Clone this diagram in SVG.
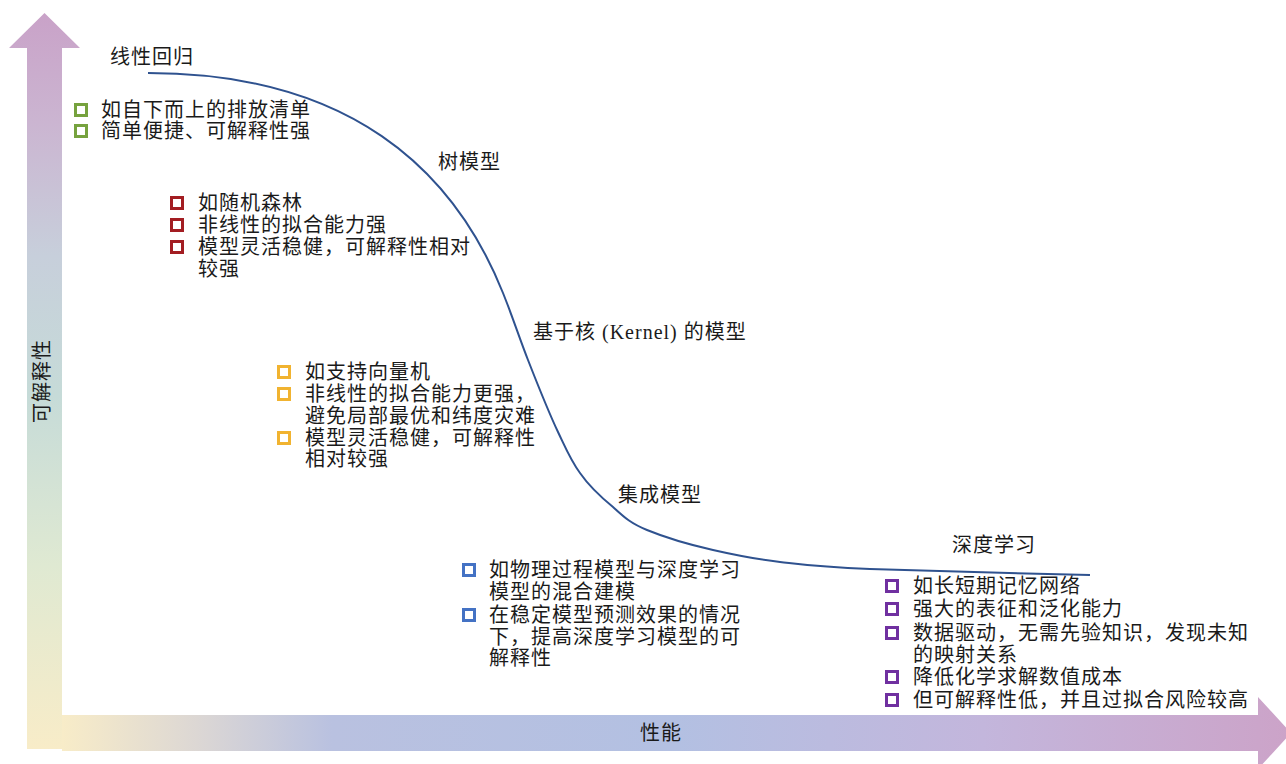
<svg xmlns="http://www.w3.org/2000/svg" width="1286" height="764" viewBox="0 0 1286 764">
<style>
  .t { font-family: "Liberation Serif", "Noto Sans CJK SC", serif; font-size: 20px; letter-spacing: 1px; fill: #1a1a1a; }
  .sq { fill: #ffffff; stroke-width: 3; }
  .g { stroke: #76a23e; }
  .r { stroke: #a31d22; }
  .o { stroke: #f1b330; }
  .b { stroke: #4472c4; }
  .p { stroke: #7030a0; }
  .curve { fill: none; stroke: #2f528f; stroke-width: 2; }
</style>
<defs>
  <linearGradient id="gv" gradientUnits="userSpaceOnUse" x1="0" y1="13" x2="0" y2="749">
    <stop offset="0" stop-color="#c9a2c8"/>
    <stop offset="0.15" stop-color="#cbb5d1"/>
    <stop offset="0.33" stop-color="#c7cfdb"/>
    <stop offset="0.52" stop-color="#c6dbd8"/>
    <stop offset="0.75" stop-color="#dfe9d2"/>
    <stop offset="1" stop-color="#f8ecc8"/>
  </linearGradient>
  <linearGradient id="gh" gradientUnits="userSpaceOnUse" x1="62" y1="0" x2="1290" y2="0">
    <stop offset="0" stop-color="#f8ecc8"/>
    <stop offset="0.11" stop-color="#dcd7d4"/>
    <stop offset="0.22" stop-color="#b9c1e0"/>
    <stop offset="0.5" stop-color="#b3c0e2"/>
    <stop offset="0.75" stop-color="#c3b6dc"/>
    <stop offset="1" stop-color="#cca3c8"/>
  </linearGradient>
</defs>
<rect width="1286" height="764" fill="#ffffff"/>
<g id="axes">
  <polygon id="y-axis" points="27,749 27,48 9,48 44.5,13 80,48 62,48 62,749" fill="url(#gv)"/>
  <polygon id="x-axis" points="62,715 1258,715 1258,697 1291,733 1258,769 1258,751 62,751" fill="url(#gh)"/>
  <text class="t" transform="translate(42,381) rotate(-90)" x="0" y="7" text-anchor="middle">可解释性</text>
  <text class="t" x="640" y="740">性能</text>
</g>
<g id="connectors">
  <path class="curve" d="M148,73 C348,73 453,168 503,293 C513,318 519,337 528,360 C537,383 549,413 558,432 C567,451 571,461 580,473 C589,486 602,498 613,507 C624,517 630,523 647,530 C664,537 691,545 713,550 C735,555 754,559 780,562 C806,565 818,567 870,569 C922,571 1053,574 1090,575"/>
</g>
<g id="node-linear">
  <text class="t" x="110" y="64">线性回归</text>
  <rect class="sq g" x="75.5" y="104.5" width="11" height="11"/>
  <text class="t" x="101" y="117">如自下而上的排放清单</text>
  <rect class="sq g" x="75.5" y="125.5" width="11" height="11"/>
  <text class="t" x="101" y="138">简单便捷、可解释性强</text>
</g>
<g id="node-tree">
  <text class="t" x="438" y="169">树模型</text>
  <rect class="sq r" x="171.5" y="197.5" width="11" height="11"/>
  <text class="t" x="198" y="210">如随机森林</text>
  <rect class="sq r" x="171.5" y="219.5" width="11" height="11"/>
  <text class="t" x="198" y="232">非线性的拟合能力强</text>
  <rect class="sq r" x="171.5" y="241.5" width="11" height="11"/>
  <text class="t" x="198" y="254">模型灵活稳健，可解释性相对</text>
  <text class="t" x="198" y="276">较强</text>
</g>
<g id="node-kernel">
  <text class="t" x="533" y="339">基于核 (Kernel) 的模型</text>
  <rect class="sq o" x="278.5" y="366.5" width="11" height="11"/>
  <text class="t" x="305" y="379">如支持向量机</text>
  <rect class="sq o" x="278.5" y="388.5" width="11" height="11"/>
  <text class="t" x="305" y="401">非线性的拟合能力更强，</text>
  <text class="t" x="305" y="423">避免局部最优和纬度灾难</text>
  <rect class="sq o" x="278.5" y="432.5" width="11" height="11"/>
  <text class="t" x="305" y="445">模型灵活稳健，可解释性</text>
  <text class="t" x="305" y="466">相对较强</text>
</g>
<g id="node-ensemble">
  <text class="t" x="618" y="502">集成模型</text>
  <rect class="sq b" x="463.5" y="564.5" width="11" height="11"/>
  <text class="t" x="489" y="577">如物理过程模型与深度学习</text>
  <text class="t" x="489" y="599">模型的混合建模</text>
  <rect class="sq b" x="463.5" y="609.5" width="11" height="11"/>
  <text class="t" x="489" y="622">在稳定模型预测效果的情况</text>
  <text class="t" x="489" y="644">下，提高深度学习模型的可</text>
  <text class="t" x="489" y="665">解释性</text>
</g>
<g id="node-deep">
  <text class="t" x="952" y="552">深度学习</text>
  <rect class="sq p" x="886.5" y="580.5" width="11" height="11"/>
  <text class="t" x="913" y="593">如长短期记忆网络</text>
  <rect class="sq p" x="886.5" y="603.5" width="11" height="11"/>
  <text class="t" x="913" y="616">强大的表征和泛化能力</text>
  <rect class="sq p" x="886.5" y="627.5" width="11" height="11"/>
  <text class="t" x="913" y="640">数据驱动，无需先验知识，发现未知</text>
  <text class="t" x="913" y="662">的映射关系</text>
  <rect class="sq p" x="886.5" y="671.5" width="11" height="11"/>
  <text class="t" x="913" y="684">降低化学求解数值成本</text>
  <rect class="sq p" x="886.5" y="694.5" width="11" height="11"/>
  <text class="t" x="913" y="707">但可解释性低，并且过拟合风险较高</text>
</g>
</svg>
